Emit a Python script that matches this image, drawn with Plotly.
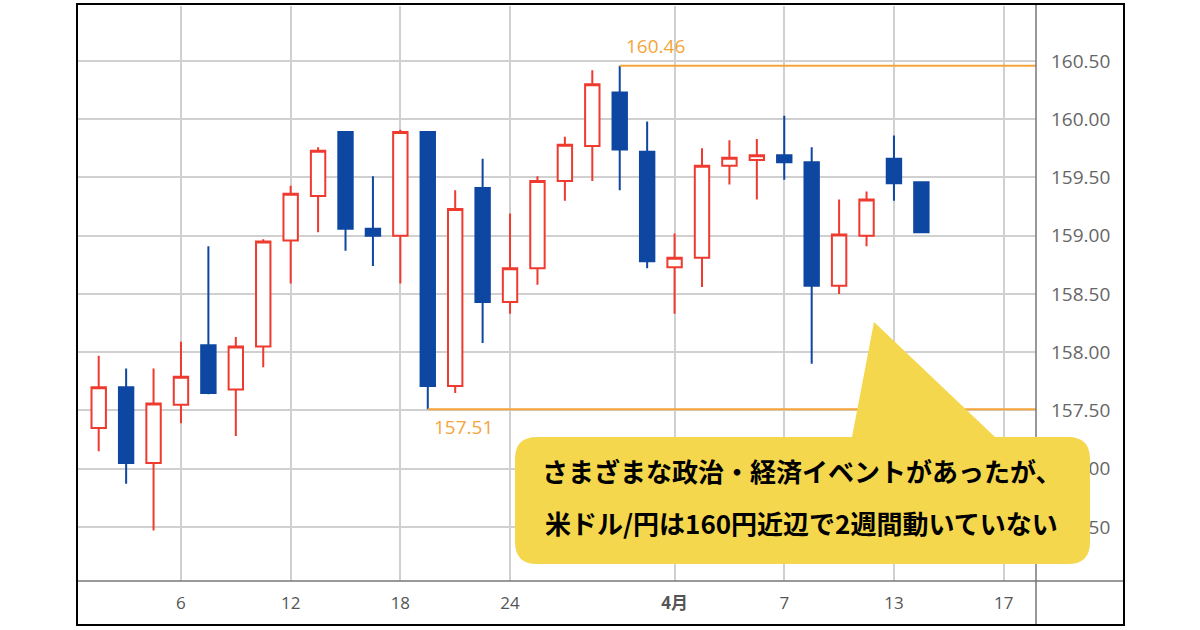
import pandas as pd
import plotly.graph_objects as go

# daily USD/JPY candles (weekdays only)
dates = [
    "2026-03-03", "2026-03-04", "2026-03-05", "2026-03-06",
    "2026-03-09", "2026-03-10", "2026-03-11", "2026-03-12", "2026-03-13",
    "2026-03-16", "2026-03-17", "2026-03-18", "2026-03-19", "2026-03-20",
    "2026-03-23", "2026-03-24", "2026-03-25", "2026-03-26", "2026-03-27",
    "2026-03-30", "2026-03-31", "2026-04-01", "2026-04-02", "2026-04-03",
    "2026-04-06", "2026-04-07", "2026-04-08", "2026-04-09", "2026-04-10",
    "2026-04-13", "2026-04-14",
]
opens = [157.35, 157.70, 157.05, 157.55, 158.06, 157.68, 158.05, 158.96, 159.34,
         159.89, 159.06, 159.00, 159.89, 157.71, 159.41, 158.43, 158.72, 159.47,
         159.77, 160.23, 159.72, 158.73, 158.81, 159.60, 159.65, 159.69, 159.63,
         158.57, 159.00, 159.66, 159.46]
highs = [157.97, 157.86, 157.86, 158.09, 158.91, 158.13, 158.97, 159.43, 159.76,
         159.89, 159.51, 159.91, 159.89, 159.39, 159.66, 159.19, 159.51, 159.85,
         160.42, 160.46, 159.98, 159.02, 159.75, 159.82, 159.83, 160.03, 159.76,
         159.31, 159.38, 159.86, 159.46]
lows = [157.15, 156.87, 156.47, 157.39, 157.64, 157.28, 157.87, 158.59, 159.03,
        158.87, 158.74, 158.59, 157.51, 157.65, 158.08, 158.33, 158.58, 159.30,
        159.47, 159.39, 158.72, 158.33, 158.56, 159.44, 159.31, 159.48, 157.90,
        158.50, 158.91, 159.30, 159.03]
closes = [157.70, 157.05, 157.56, 157.79, 157.65, 158.05, 158.95, 159.36, 159.73,
          159.06, 159.00, 159.89, 157.71, 159.23, 158.43, 158.72, 159.47, 159.78,
          160.30, 159.74, 158.78, 158.81, 159.60, 159.67, 159.69, 159.63, 158.57,
          159.01, 159.31, 159.45, 159.03]

# the two weeks boxed in by the orange high / low lines
range_start = "2026-03-19"

tick_dates = ["2026-03-06", "2026-03-12", "2026-03-18", "2026-03-24",
              "2026-04-01", "2026-04-07", "2026-04-13", "2026-04-17"]
tick_text = ["6", "12", "18", "24", "<b>4月</b>", "7", "13", "17"]

note_lines = ["さまざまな政治・経済イベントがあったが、",
              "米ドル/円は160円近辺で2週間動いていない"]

# weekday calendar -> x position of each candle
cal = pd.bdate_range("2026-03-03", "2026-04-17")
xpos = list(cal.get_indexer(pd.to_datetime(dates)))
tickpos = list(cal.get_indexer(pd.to_datetime(tick_dates)))

UP = "#EE3A2F"
DOWN = "#0D47A1"
ORANGE = "#F4A53A"
YELLOW = "#F5D74D"
GRID = "#D0D0D0"

# plot box in pixels
L, R, T, B = 78, 1036, 6, 581


def px(x):
    return (x - L) / (R - L)


def py(y):
    return (B - y) / (B - T)


fig = go.Figure(go.Candlestick(
    x=xpos, open=opens, high=highs, low=lows, close=closes,
    increasing=dict(line=dict(color=UP, width=2), fillcolor="white"),
    decreasing=dict(line=dict(color=DOWN, width=2), fillcolor=DOWN),
    hoverinfo="skip",
))

x_end = 34.18
s = dates.index(range_start)
hi_i = max(range(s, len(highs)), key=lambda i: highs[i])
lo_i = min(range(s, len(lows)), key=lambda i: lows[i])

shapes = [
    dict(type="line", xref="x", yref="y", x0=xpos[hi_i], x1=x_end,
         y0=highs[hi_i], y1=highs[hi_i], line=dict(color=ORANGE, width=2)),
    dict(type="line", xref="x", yref="y", x0=xpos[lo_i], x1=x_end,
         y0=lows[lo_i], y1=lows[lo_i], line=dict(color=ORANGE, width=2)),
    # right axis line and bottom axis line
    dict(type="line", xref="paper", yref="paper", x0=1, x1=1,
         y0=py(625), y1=py(5), line=dict(color="#777", width=1.5)),
    dict(type="line", xref="paper", yref="paper", x0=0, x1=px(1124),
         y0=0, y1=0, line=dict(color="#777", width=1.5)),
]

# speech bubble
bx0, bx1, by0, by1, r = 515, 1090, 437, 564, 22
tri = [(852, 437), (874, 322), (995, 437)]
path = "M {} {}".format(px(bx0 + r), py(by0))
for a, b in tri + [(bx1 - r, by0)]:
    path += " L {} {}".format(px(a), py(b))
path += " Q {} {} {} {}".format(px(bx1), py(by0), px(bx1), py(by0 + r))
path += " L {} {}".format(px(bx1), py(by1 - r))
path += " Q {} {} {} {}".format(px(bx1), py(by1), px(bx1 - r), py(by1))
path += " L {} {}".format(px(bx0 + r), py(by1))
path += " Q {} {} {} {}".format(px(bx0), py(by1), px(bx0), py(by1 - r))
path += " L {} {}".format(px(bx0), py(by0 + r))
path += " Q {} {} {} {} Z".format(px(bx0), py(by0), px(bx0 + r), py(by0))
shapes.append(dict(type="path", xref="paper", yref="paper", path=path,
                   fillcolor=YELLOW, line=dict(width=0), layer="above"))

# outer frame
shapes.append(dict(type="rect", xref="paper", yref="paper",
                   x0=px(77), x1=px(1124), y0=py(625), y1=py(4),
                   line=dict(color="black", width=2)))

lbl_font = dict(family="Open Sans, Noto Sans CJK JP", size=19, color=ORANGE)
annotations = [
    dict(x=xpos[hi_i], y=highs[hi_i], xref="x", yref="y", text=f"{highs[hi_i]:.2f}",
         showarrow=False, xanchor="left", yanchor="bottom", xshift=4, yshift=5,
         font=lbl_font),
    dict(x=xpos[lo_i], y=lows[lo_i], xref="x", yref="y", text=f"{lows[lo_i]:.2f}",
         showarrow=False, xanchor="left", yanchor="top", xshift=4, yshift=-3,
         font=lbl_font),
]
for txt, yy in zip(note_lines, [470, 522]):
    annotations.append(dict(
        x=px(801), y=py(yy), xref="paper", yref="paper", text=f"<b>{txt}</b>",
        showarrow=False, xanchor="center", yanchor="middle",
        font=dict(family="Noto Sans CJK JP", size=26, color="black")))

fig.update_layout(
    width=1200, height=630,
    margin=dict(l=L, r=1200 - R, t=T, b=630 - B),
    paper_bgcolor="white", plot_bgcolor="white",
    showlegend=False, boxgap=0.25,
    shapes=shapes, annotations=annotations,
    xaxis=dict(range=[-0.755, x_end], tickvals=tickpos, ticktext=tick_text,
               showgrid=True, gridcolor=GRID, gridwidth=1.5, zeroline=False,
               showline=False, ticks="", rangeslider=dict(visible=False),
               tickfont=dict(family="Open Sans, Noto Sans CJK JP", size=17, color="#555"),
               ticklabelstandoff=10),
    yaxis=dict(range=[156.036, 160.972], side="right", dtick=0.5, tick0=156.5,
               tickformat=".2f", showgrid=True, gridcolor=GRID, gridwidth=1.5,
               zeroline=False, showline=False, ticks="",
               tickfont=dict(family="Open Sans", size=19, color="#666"),
               ticklabelstandoff=14),
)

# drop the page's default 8px body margin so the figure sits at 0,0
fig.write_html("out.html", config={"displayModeBar": False},
               post_script="document.body.style.margin='0';")
